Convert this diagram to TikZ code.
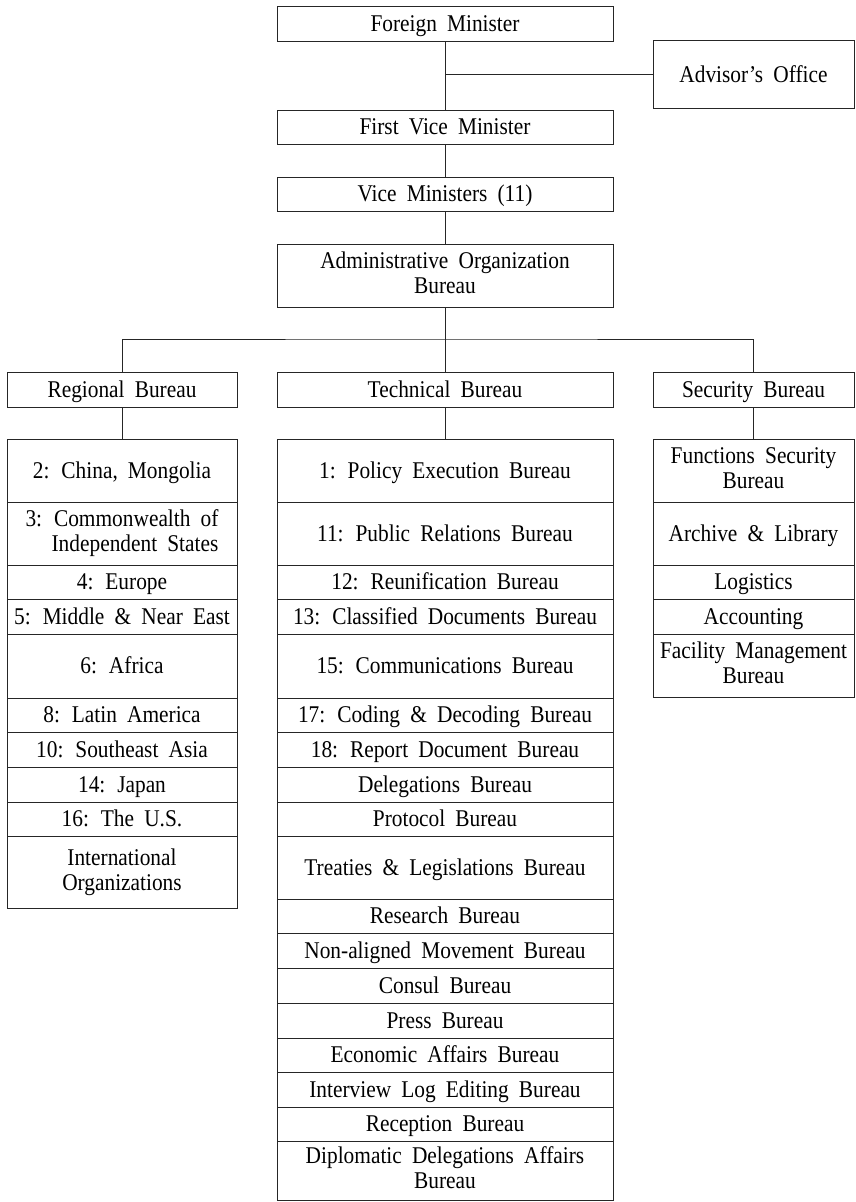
\documentclass[tikz,border=0pt]{standalone}
\usepackage{fontspec}
\setmainfont{Liberation Serif}[FakeStretch=0.89,WordSpace=1.9]
\usepackage{tikz}
\usetikzlibrary{positioning}

\newcommand\rowstrut{\rule[-5.5pt]{0pt}{26.5pt}}

\tikzset{
	unit/.style={draw=black!85, line width=0.85pt, inner sep=0pt, align=center,
		font=\fontsize{24}{25}\selectfont,
		execute at begin node=\rowstrut, execute at end node=\rowstrut},
	link/.style={draw=black!85, line width=0.85pt},
}

\begin{document}
\begin{tikzpicture}[x=1pt,y=-1pt]
		\useasboundingbox (0,0) rectangle (856,1202);
		% ministers
		\node[unit, minimum width=336, minimum height=35] (fm) at (445,23.5) {Foreign Minister};
		\node[unit, minimum width=201, minimum height=68] (adv) at (753.5,74.5) {Advisor's Office};
		\node[unit, minimum width=336, minimum height=34] (fvm) at (445,127) {First Vice Minister};
		\node[unit, minimum width=336, minimum height=34] (vm) at (445,194) {Vice Ministers (11)};
		\node[unit, minimum width=336, minimum height=63] (aob) at (445,275.5) {Administrative Organization\\Bureau};
		\draw[link] (fm) -- (fvm);
		\draw[link] (fm.south |- adv.west) -- (adv.west);
		\draw[link] (fvm) -- (vm);
		\draw[link] (vm) -- (aob);
		
		% bureaus
		\node[unit, minimum width=230, minimum height=35] (reg) at (122,389.5) {Regional Bureau};
		\node[unit, minimum width=336, minimum height=35] (tec) at (445,389.5) {Technical Bureau};
		\node[unit, minimum width=201, minimum height=35] (sec) at (753.5,389.5) {Security Bureau};
		\coordinate (bus) at (445,339);
		\draw[link] (aob.south) -- (tec.north);
		\draw[link] (reg.north) |- (bus) -| (sec.north);
		
		\foreach \top/\bot/\txt [count=\i] in {
				439/502/{2: China, Mongolia},
				502/565/{3: Commonwealth of\\\hspace*{26pt}Independent States},
				565/599/{4: Europe},
				599/634/{5: Middle \& Near East},
				634/698/{6: Africa},
				698/732/{8: Latin America},
				732/767/{10: Southeast Asia},
				767/802/{14: Japan},
				802/836/{16: The U.S.},
				836/908/{International\\Organizations}}
			\node[unit, minimum width=230, minimum height={\bot-\top}] (reg\i) at (122,{(\top+\bot)/2}) {\txt};
		
		\foreach \top/\bot/\txt [count=\i] in {
				439/502/{1: Policy Execution Bureau},
				502/565/{11: Public Relations Bureau},
				565/599/{12: Reunification Bureau},
				599/634/{13: Classified Documents Bureau},
				634/698/{15: Communications Bureau},
				698/732/{17: Coding \& Decoding Bureau},
				732/767/{18: Report Document Bureau},
				767/802/{Delegations Bureau},
				802/836/{Protocol Bureau},
				836/899/{Treaties \& Legislations Bureau},
				899/933/{Research Bureau},
				933/968/{Non-aligned Movement Bureau},
				968/1003/{Consul Bureau},
				1003/1038/{Press Bureau},
				1038/1072/{Economic Affairs Bureau},
				1072/1107/{Interview Log Editing Bureau},
				1107/1141/{Reception Bureau},
				1141/1200/{Diplomatic Delegations Affairs\\Bureau}}
			\node[unit, minimum width=336, minimum height={\bot-\top}] (tec\i) at (445,{(\top+\bot)/2}) {\txt};
		
		\foreach \top/\bot/\txt [count=\i] in {
				439/502/{Functions Security\\Bureau},
				502/565/{Archive \& Library},
				565/599/{Logistics},
				599/634/{Accounting},
				634/697/{Facility Management\\Bureau}}
			\node[unit, minimum width=201, minimum height={\bot-\top}] (sec\i) at (753.5,{(\top+\bot)/2}) {\txt};
		
		\draw[link] (reg.south) -- (reg1.north);
		\draw[link] (tec.south) -- (tec1.north);
		\draw[link] (sec.south) -- (sec1.north);
	\end{tikzpicture}
\end{document}
